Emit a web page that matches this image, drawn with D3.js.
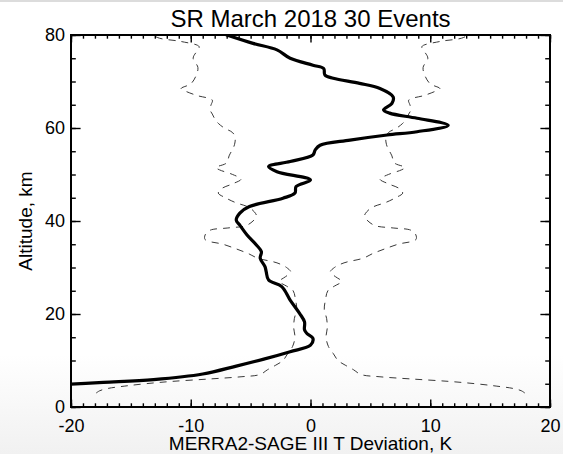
<!DOCTYPE html>
<html>
<head>
<meta charset="utf-8">
<script src="https://cdn.jsdelivr.net/npm/d3@7/dist/d3.min.js"></script>
<style>
  body { margin: 0; background: #fff; }
  svg { display: block; font-family: "Liberation Sans", Arial, sans-serif; }
</style>
</head>
<body>
<svg id="chart" width="563" height="454"></svg>
<script>
// SR March 2018 - mean MERRA2 minus SAGE III temperature deviation with +/- spread.

const title = 'SR March 2018 30 Events';
const xLabel = 'MERRA2-SAGE III T Deviation, K';
const yLabel = 'Altitude, km';

const xTicks = [-20, -10, 0, 10, 20];
const yTicks = [0, 20, 40, 60, 80];

// mean deviation profile (km, K)
const meanAlt = [4.8, 5.3, 5.9, 7.1, 8.8, 10.3, 11.9, 13.3, 14.8, 15.8, 16.6, 18.3, 20.1, 23.0, 25.9,
  27.3, 29.1, 30.2, 32.0, 33.4, 34.8, 37.0, 39.1, 40.2, 41.7, 43.1, 44.9, 46.0, 47.4, 48.8,
  50.6, 51.7, 52.8, 54.2, 55.3, 56.3, 57.4, 58.5, 59.2, 60.6, 62.1, 63.2, 63.9, 65.3, 66.7,
  68.5, 69.6, 70.7, 71.4, 72.8, 73.5, 75.0, 76.8, 78.2, 80.0];
const meanDev = [-21.0, -17.3, -13.1, -9.0, -6.2, -3.9, -1.7, 0.0, 0.2, -0.3, -0.5, -0.5, -0.9, -1.7, -2.4,
  -3.5, -3.7, -3.8, -4.2, -4.1, -4.5, -5.3, -5.9, -6.2, -5.9, -5.1, -2.3, -1.3, -1.2, 0.0,
  -2.8, -3.5, -1.7, 0.2, 0.4, 0.8, 3.3, 6.4, 8.9, 11.5, 8.9, 6.6, 6.1, 6.8, 6.9,
  5.8, 4.1, 1.9, 1.2, 1.1, 0.2, -1.7, -2.8, -4.8, -7.0];

// spread of the deviation, drawn as +/- dashed envelope (km, K)
const spreadAlt = [3.0, 3.5, 4.0, 4.5, 5.0, 5.5, 6.0, 6.5, 7.0, 8.0, 9.0, 10.0, 11.5, 13.0, 15.0,
  17.0, 19.0, 21.0, 23.0, 25.0, 26.0, 27.0, 28.0, 29.0, 30.0, 31.0, 32.0, 33.0, 34.0, 35.0,
  36.0, 37.0, 38.0, 38.5, 39.0, 40.0, 41.0, 42.0, 43.0, 44.0, 45.0, 46.0, 47.0, 48.0, 49.0,
  50.0, 51.0, 51.5, 52.5, 54.0, 55.0, 56.0, 57.0, 58.0, 59.0, 60.0, 61.0, 62.0, 63.0, 64.0,
  65.0, 66.0, 67.0, 68.0, 68.5, 69.5, 71.0, 73.0, 75.0, 76.5, 77.5, 78.6, 79.3, 80.0];
const spreadDev = [17.9, 17.6, 16.9, 15.5, 13.8, 11.6, 8.6, 5.8, 4.2, 3.6, 2.9, 2.3, 1.9, 1.5, 1.3,
  1.4, 1.35, 1.15, 1.25, 1.45, 2.0, 2.6, 2.1, 1.65, 2.0, 2.8, 4.4, 5.2, 6.2, 7.3,
  8.8, 8.8, 8.4, 6.9, 5.4, 4.8, 4.5, 4.7, 5.2, 6.3, 7.1, 7.7, 7.4, 6.5, 5.8,
  6.5, 7.6, 7.9, 7.0, 6.8, 6.6, 6.4, 6.3, 6.3, 6.5, 7.2, 7.7, 8.0, 8.2, 8.4,
  8.3, 8.2, 9.5, 10.5, 10.8, 10.0, 9.6, 9.4, 9.8, 9.5, 9.3, 10.8, 12.6, 13.2];

const W = 563, H = 454;
const margin = { top: 35, right: 13, bottom: 47, left: 71 };
const plotW = W - margin.left - margin.right;
const plotH = H - margin.top - margin.bottom;

const svg = d3.select('#chart');

// faint grey fade at the bottom of the screenshot, thin rule at the top
const defs = svg.append('defs');
const grad = defs.append('linearGradient')
  .attr('id', 'bottom-fade')
  .attr('x1', 0).attr('y1', 0).attr('x2', 0).attr('y2', 1);
grad.append('stop').attr('offset', '0%').attr('stop-color', '#ffffff');
grad.append('stop').attr('offset', '100%').attr('stop-color', '#f1f1f1');

svg.append('rect').attr('x', 0).attr('y', 355).attr('width', W).attr('height', H - 355)
  .attr('fill', 'url(#bottom-fade)');
svg.append('rect').attr('x', 0).attr('y', 0).attr('width', W).attr('height', 2)
  .attr('fill', '#dcdcdc');

defs.append('clipPath').attr('id', 'plot-clip')
  .append('rect').attr('width', plotW).attr('height', plotH);

const x = d3.scaleLinear().domain([-20, 20]).range([0, plotW]);
const y = d3.scaleLinear().domain([0, 80]).range([plotH, 0]);

const g = svg.append('g').attr('transform', `translate(${margin.left},${margin.top})`);

const xMajorLen = 7.4, xMinorLen = 3.7;
const yMajorLen = 9.6, yMinorLen = 4.8;
const xMinor = d3.range(-20, 21, 1);
const yMinor = d3.range(0, 81, 5);
const plainNum = d => String(d);   // keep the ASCII hyphen for negatives

function styleAxis(sel) {
  sel.select('.domain').remove();
  sel.selectAll('.tick line').attr('stroke', '#000').attr('stroke-width', 1.4);
  sel.selectAll('.tick text').attr('fill', '#000').style('font-size', '18px')
    .style('font-family', '"Liberation Sans", Arial, sans-serif');
}

// bottom
g.append('g').attr('transform', `translate(0,${plotH})`)
  .call(d3.axisBottom(x).tickValues(xMinor).tickSize(-xMinorLen).tickFormat(''))
  .call(styleAxis);
g.append('g').attr('transform', `translate(0,${plotH})`)
  .call(d3.axisBottom(x).tickValues(xTicks).tickSize(-xMajorLen).tickPadding(12).tickFormat(plainNum))
  .call(styleAxis);
// top
g.append('g')
  .call(d3.axisTop(x).tickValues(xMinor).tickSize(-xMinorLen).tickFormat(''))
  .call(styleAxis);
g.append('g')
  .call(d3.axisTop(x).tickValues(xTicks).tickSize(-xMajorLen).tickFormat(''))
  .call(styleAxis);
// left
g.append('g')
  .call(d3.axisLeft(y).tickValues(yMinor).tickSize(-yMinorLen).tickFormat(''))
  .call(styleAxis);
g.append('g')
  .call(d3.axisLeft(y).tickValues(yTicks).tickSize(-yMajorLen).tickPadding(6).tickFormat(plainNum))
  .call(styleAxis);
// right
g.append('g').attr('transform', `translate(${plotW},0)`)
  .call(d3.axisRight(y).tickValues(yMinor).tickSize(-yMinorLen).tickFormat(''))
  .call(styleAxis);
g.append('g').attr('transform', `translate(${plotW},0)`)
  .call(d3.axisRight(y).tickValues(yTicks).tickSize(-yMajorLen).tickFormat(''))
  .call(styleAxis);

// curves
const plot = g.append('g').attr('clip-path', 'url(#plot-clip)');

const line = d3.line()
  .x(d => x(d[0]))
  .y(d => y(d[1]))
  .curve(d3.curveCatmullRom.alpha(0.5));

const meanPts = meanAlt.map((a, i) => [meanDev[i], a]);
const lowPts = spreadAlt.map((a, i) => [-spreadDev[i], a]);
const highPts = spreadAlt.map((a, i) => [spreadDev[i], a]);

[lowPts, highPts].forEach(pts => {
  plot.append('path')
    .attr('d', line(pts))
    .attr('fill', 'none')
    .attr('stroke', '#3a3a3a')
    .attr('stroke-width', 1)
    .attr('stroke-dasharray', '7,6');
});

plot.append('path')
  .attr('d', line(meanPts))
  .attr('fill', 'none')
  .attr('stroke', '#000')
  .attr('stroke-width', 3.2)
  .attr('stroke-linejoin', 'round')
  .attr('stroke-linecap', 'round');

// frame
g.append('rect')
  .attr('width', plotW).attr('height', plotH)
  .attr('fill', 'none').attr('stroke', '#000').attr('stroke-width', 2);

// labels
svg.append('text')
  .attr('x', margin.left + plotW / 2).attr('y', 27)
  .attr('text-anchor', 'middle')
  .style('font-size', '24px')
  .text(title);

svg.append('text')
  .attr('x', margin.left + plotW / 2).attr('y', 450)
  .attr('text-anchor', 'middle')
  .style('font-size', '19px')
  .text(xLabel);

svg.append('text')
  .attr('transform', `translate(32,${margin.top + plotH / 2}) rotate(-90)`)
  .attr('text-anchor', 'middle')
  .style('font-size', '19px')
  .text(yLabel);
</script>
</body>
</html>
